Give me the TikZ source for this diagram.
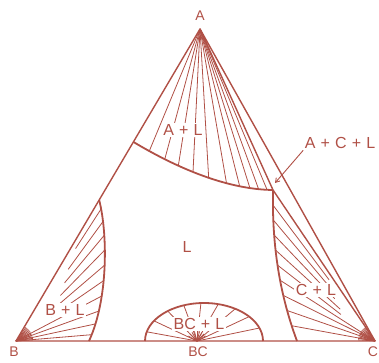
\documentclass[tikz,border=0pt]{standalone}
\usepackage{fontspec}
\setmainfont{Liberation Sans}
\usetikzlibrary{calc,arrows.meta}
\definecolor{rb}{RGB}{176,80,70}
\newcommand\plsep{\hspace{0.32em}+\hspace{0.32em}}
\begin{document}
\begin{tikzpicture}[x=1pt,y=1pt,
  edge/.style={draw=rb, line width=1.4pt, line join=round},
  bound/.style={draw=rb, line width=1.8pt},
  tie/.style={draw=rb, line width=0.8pt},
  lab/.style={text=rb, font=\fontsize{16}{19}\selectfont, inner sep=1.5pt},
  vlab/.style={lab, font=\fontsize{14}{16}\selectfont},
  reg/.style={lab, fill=white},
]
\useasboundingbox (0,0) rectangle (379,362);
\coordinate (A) at (200,333);
\coordinate (B) at (16,21);
\coordinate (C) at (375,21);
\coordinate (BCp) at (197,21);
\coordinate (P) at (273,172);
\coordinate (P0) at ($(A)!0.362!(B)$);
\coordinate (Q0) at ($(A)!0.548!(B)$);
\coordinate (Q1) at (89,21);
\coordinate (R1) at (297,21);
\coordinate (DL) at (145,21);
\coordinate (DC) at (204,21);

% curves (paths only, to get tie-line end points)
\path (P0) .. controls (187,188) and (234,172.5) .. (P)
  coordinate[pos=0.1] (al1) coordinate[pos=0.2] (al2) coordinate[pos=0.29] (al3)
  coordinate[pos=0.39] (al4) coordinate[pos=0.5] (al5) coordinate[pos=0.63] (al6)
  coordinate[pos=0.73] (al7) coordinate[pos=0.81] (al8) coordinate[pos=0.88] (al9)
  coordinate[pos=0.95] (al10);
\path (Q0) .. controls (108,127) and (108,62) .. (Q1)
  coordinate[pos=0.08] (bl1) coordinate[pos=0.18] (bl2) coordinate[pos=0.28] (bl3)
  coordinate[pos=0.38] (bl4) coordinate[pos=0.48] (bl5) coordinate[pos=0.58] (bl6)
  coordinate[pos=0.68] (bl7) coordinate[pos=0.78] (bl8) coordinate[pos=0.87] (bl9)
  coordinate[pos=0.95] (bl10);
\path (P) .. controls (272,122) and (278,72) .. (R1)
  coordinate[pos=0.1] (cl1) coordinate[pos=0.2] (cl2) coordinate[pos=0.3] (cl3)
  coordinate[pos=0.4] (cl4) coordinate[pos=0.5] (cl5) coordinate[pos=0.6] (cl6)
  coordinate[pos=0.7] (cl7) coordinate[pos=0.8] (cl8) coordinate[pos=0.9] (cl9);

% tie lines A + L
\foreach \i in {1,...,10} \draw[tie] (A) -- (al\i);
% tie lines B + L
\foreach \i/\f in {1/0.3,2/0.4,3/0.45,4/0.5,5/0.55,6/0.6,7/1,8/1,9/1,10/1}
  \draw[tie] (bl\i) -- ($(bl\i)!\f!(B)$);
\foreach \a in {4,9,...,54} \draw[tie] (B) -- ++(\a:17);
% tie lines C + L
\foreach \i/\f in {1/0.55,2/0.55,3/0.6,4/0.65,5/0.65,6/1,7/1,8/1,9/1}
  \draw[tie] (cl\i) -- ($(cl\i)!\f!(C)$);
\foreach \a in {4,9,...,54} \draw[tie] (C) -- ++(180-\a:17);
% tie lines BC + L
\foreach \a [count=\i] in {166,148,128,110,93,76,58,40,20}
  \coordinate (dm\i) at ($(DC)+(\a:59 and 38)$);
\foreach \i in {1,...,9} \draw[tie] (BCp) -- (dm\i);
\foreach \a in {30,45,...,150} \draw[tie] (BCp) -- ++(\a:10);

% labels
\node[vlab] (lA) at (200,346) {A};
\node[vlab] (lB) at (14,10) {B};
\node[vlab] (lC) at (373,10) {C};
\node[vlab] (lBC) at (198,10) {BC};
\node[lab] (lL) at (187,115) {L};
\node[reg] (lAL) at (183,232) {A\plsep L};
\node[reg] (lBL) at (65,52) {B\plsep L};
\node[reg] (lCL) at (316,72) {C\plsep L};
\node[reg] (lBCL) at (199,38) {BC\plsep L};
\node[lab] (lACL) at (340,219) {A\plsep C\plsep L};
\coordinate (tip) at (275,179);
\draw[rb, line width=0.9pt, -{Straight Barb[length=4pt,width=5pt]}] (lACL.south west) -- (tip);

% boundaries
\draw[edge] (A) -- (B) -- (C) -- cycle;
\draw[edge] (A) -- (P) -- (C);
\draw[bound] (P0) .. controls (187,188) and (234,172.5) .. (P);
\draw[bound] (Q0) .. controls (108,127) and (108,62) .. (Q1);
\draw[bound] (P) .. controls (272,122) and (278,72) .. (R1);
\draw[bound] (DL) arc[start angle=180, end angle=0, x radius=59, y radius=38];
\end{tikzpicture}
\end{document}
